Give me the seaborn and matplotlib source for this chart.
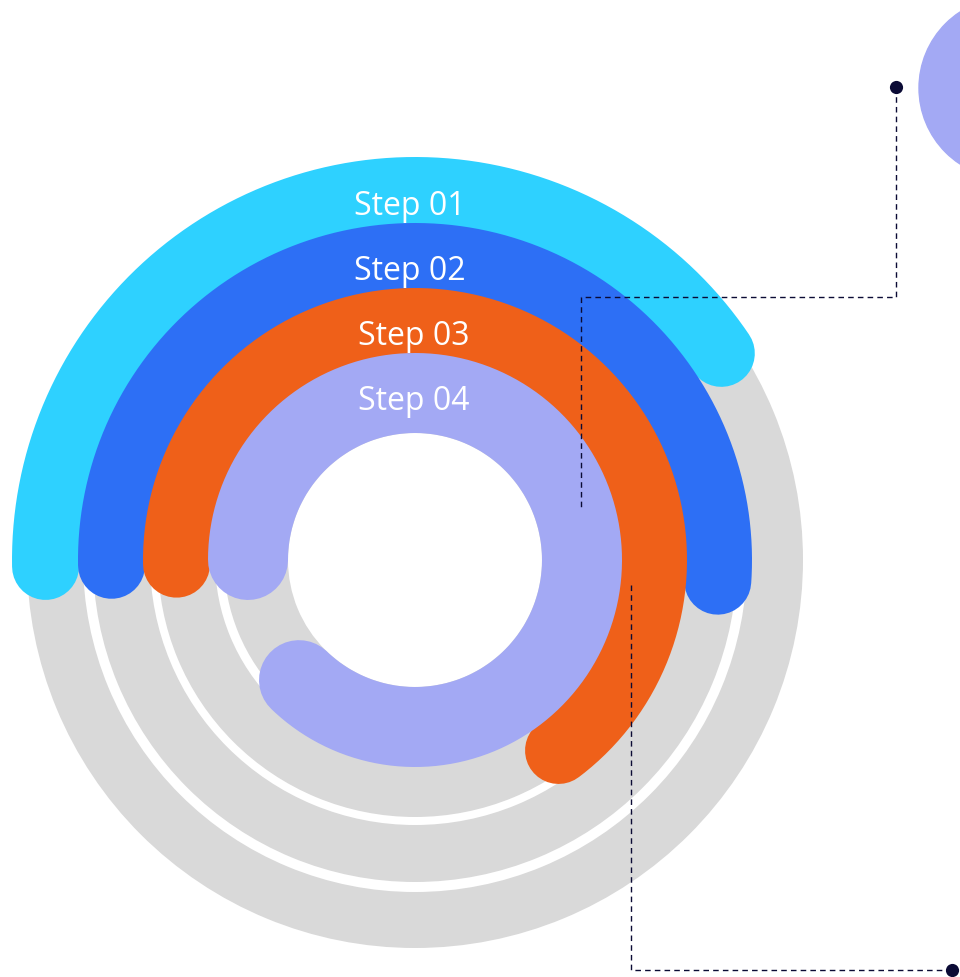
import numpy as np
import matplotlib
matplotlib.use("Agg")
import matplotlib.pyplot as plt
from matplotlib.patches import Wedge, Circle
import seaborn as sns

# ---- data ----
steps = ["Step 01", "Step 02", "Step 03", "Step 04"]
start_deg = [181, 181, 181, 180]          # start angle (deg, CCW from east)
span_deg = [147, 185, 234, 314]            # clockwise sweep of each arc
colors = ["#2ED1FF", "#2D6FF5", "#EF6019", "#A3A9F4"]

# geometry (pixels)
W, H, DPI = 960, 977, 100
cx, cy = 415, 560
arc_mid_r = [369.5, 303.5, 238.5, 167]
arc_width = [67, 67, 67, 80]
label_x = [410, 410, 414, 414]
label_base_y = [215, 280, 345, 410]
gray_outer_r = [388, 322, 257, 191]
gray_width = [56, 57, 57, 64]
gray = "#D9D9D9"
navy = "#0B0B35"

sns.set_theme(style="white")
fig = plt.figure(figsize=(W / DPI, H / DPI), dpi=DPI)
ax = fig.add_axes([0, 0, 1, 1])
ax.set_xlim(0, W)
ax.set_ylim(H, 0)
ax.set_aspect("equal")
ax.axis("off")

px2pt = 72 / DPI

def arc_xy(r, a0, a1, n=600):
    t = np.radians(np.linspace(a0, a1, n))
    return cx + r * np.cos(t), cy - r * np.sin(t)

# gray background rings
for ro, w in zip(gray_outer_r, gray_width):
    ax.add_patch(Wedge((cx, cy), ro, 0, 360, width=w, facecolor=gray,
                       edgecolor="none", zorder=1))

# coloured arcs
for i, (s, sp, c, r, w) in enumerate(zip(start_deg, span_deg, colors, arc_mid_r, arc_width)):
    x, y = arc_xy(r, s, s - sp)
    ax.plot(x, y, color=c, lw=w * px2pt, solid_capstyle="round", zorder=2 + i)

# labels
for lab, lx, ly in zip(steps, label_x, label_base_y):
    ax.text(lx, ly, lab, color="white", fontsize=23, family="Open Sans",
            ha="center", va="baseline", zorder=10)

# connectors
dash = dict(color=navy, lw=1.0, ls=(0, (4, 3)), zorder=11)
ax.plot([896, 896, 581, 581], [87, 297, 297, 508], **dash)
ax.plot([631, 631, 952], [585, 970, 970], **dash)
ax.scatter([896, 952], [87, 970], s=90, color=navy, zorder=12, linewidths=0)

# partially visible circle on the right
ax.add_patch(Circle((1010, 88), 91, color="#A3A9F4", zorder=5))

fig.savefig("out.png", dpi=DPI)
